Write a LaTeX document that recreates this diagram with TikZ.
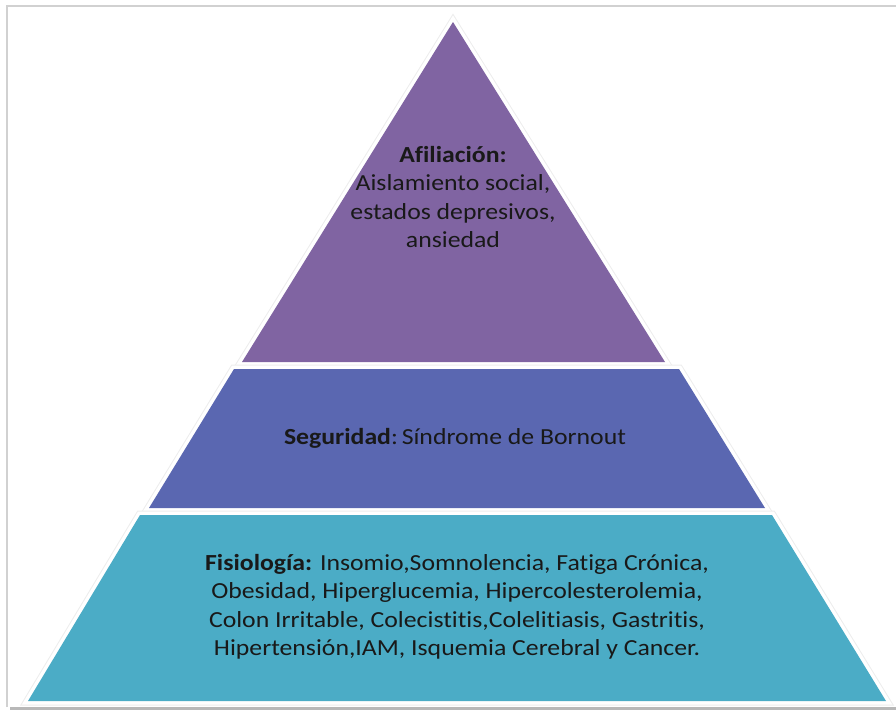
\documentclass[tikz,border=0pt]{standalone}
\usepackage{fontspec}
\setmainfont{Carlito}[FakeStretch=1.12,Ligatures=NoCommon]
\definecolor{afilcol}{HTML}{8064A2}
\definecolor{segcol}{HTML}{5A67B1}
\definecolor{fiscol}{HTML}{4BACC6}
\begin{document}
\begin{tikzpicture}[x=1pt,y=-1pt,
	glow/.style={draw=black!7,line width=9pt,line join=miter},
	tier/.style={draw=white,line width=7pt,line join=miter},
	lbl/.style={align=center,font=\fontsize{23}{28.5}\selectfont,text=black!90}]
		\useasboundingbox (0,0) rectangle (896,713);
		
		%frame
		\draw[black!18,line width=2pt] (7,707) -- (7,6) -- (897,6);
		\draw[black!28,line width=3pt] (10,708.5) -- (897,708.5);
		
		%tiers
		\foreach \yt/\yb/\xtl/\xtr/\xbl/\xbr/\c in {22/362/453/453/242/665/afilcol,369/508/234/679/149/765/segcol,515/701/140/772/28/886/fiscol} {
			\path[glow] (\xtl,\yt) -- (\xtr,\yt) -- (\xbr,\yb) -- (\xbl,\yb) -- cycle;
			\path[tier] (\xtl,\yt) -- (\xtr,\yt) -- (\xbr,\yb) -- (\xbl,\yb) -- cycle;
			\fill[\c] (\xtl,\yt) -- (\xtr,\yt) -- (\xbr,\yb) -- (\xbl,\yb) -- cycle;
		}
		
		%labels
		\node[lbl] (afil) at (453,197) {\textbf{Afiliación:}\\Aislamiento social,\\estados depresivos,\\ansiedad};
		\node[lbl] (seg) at (455,438) {\textbf{Seguridad}:\,Síndrome de Bornout};
		\node[lbl] (fis) at (457,607) {\textbf{Fisiología:} Insomio,Somnolencia, Fatiga Crónica,\\Obesidad, Hiperglucemia, Hipercolesterolemia,\\Colon Irritable, Colecistitis,Colelitiasis, Gastritis,\\Hipertensión,IAM, Isquemia Cerebral y Cancer.};
		
	\end{tikzpicture}
\end{document}
